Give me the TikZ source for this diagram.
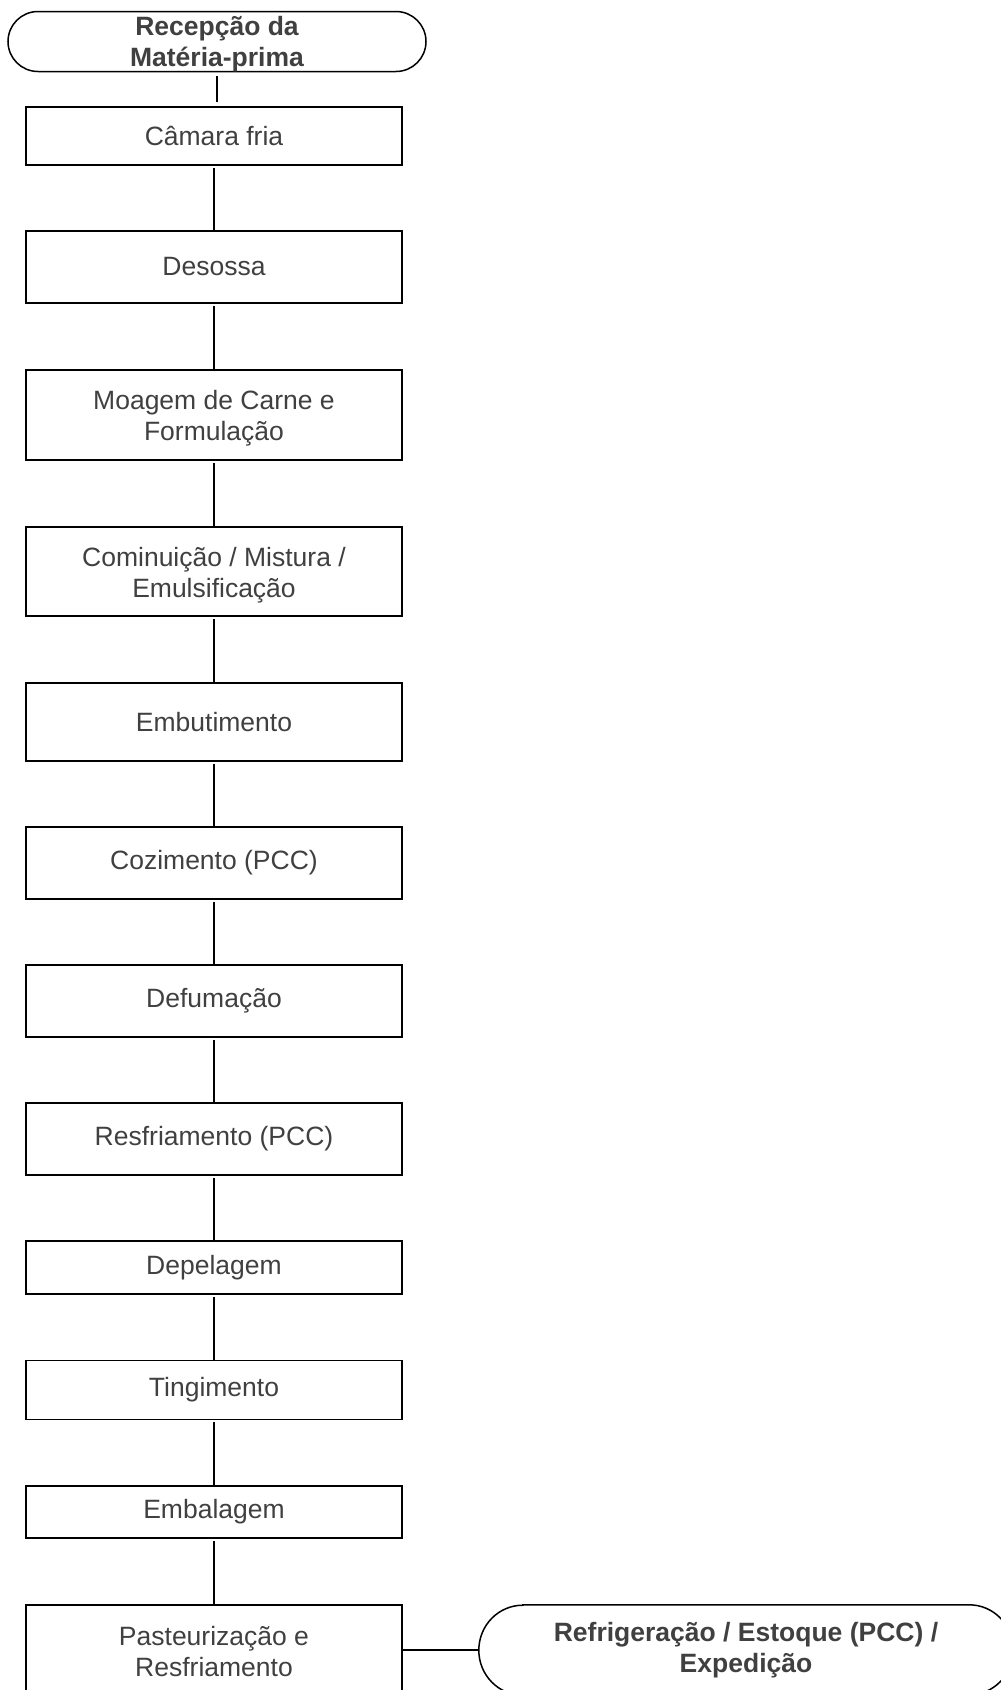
\documentclass[tikz,border=0pt]{standalone}
\usepackage{fontspec}
\setmainfont{Liberation Sans}
\usetikzlibrary{shapes.misc}
\definecolor{txtgray}{HTML}{404040}
\newcommand{\lowerfix}{\rule{0pt}{26pt}}
\newcommand{\lowerfixT}{\rule{0pt}{23.5pt}}
\begin{document}
\begin{tikzpicture}[x=1pt,y=-1pt]
\tikzset{
  stepbox/.style={draw=black, line width=1.5pt, rectangle, minimum width=376pt, inner sep=0pt,
    align=center, text=txtgray, font=\fontsize{26.5}{31}\selectfont},
  termbox/.style={draw=black, line width=1.5pt, rounded rectangle, inner sep=0pt,
    align=center, text=txtgray, font=\fontsize{26.5}{31}\selectfont\bfseries},
  termtext/.style={draw=none, rectangle, inner sep=0pt, align=center, text=txtgray,
    font=\fontsize{26.5}{31}\selectfont\bfseries},
  conn/.style={draw=black, line width=1.5pt},
}
\useasboundingbox (0,0) rectangle (1001,1690);
\fill[white] (0,0) rectangle (1001,1690);

\node[termbox, minimum width=418pt, minimum height=59pt] (t1) at (217,41.5) {\lowerfixT Recepção da\\Matéria-prima};

\node[stepbox, minimum height=58pt] (b1) at (214,136) {Câmara fria};
\node[stepbox, minimum height=72pt] (b2) at (214,267) {Desossa};
\node[stepbox, minimum height=90pt] (b3) at (214,415) {\lowerfix Moagem de Carne e\\Formulação};
\node[stepbox, minimum height=89pt] (b4) at (214,571.5) {\lowerfix Cominuição / Mistura /\\Emulsificação};
\node[stepbox, minimum height=78pt] (b5) at (214,722) {Embutimento};
\node[stepbox, minimum height=72pt] (b6) at (214,863) {Cozimento (PCC)};
\node[stepbox, minimum height=72pt] (b7) at (214,1001) {Defumação};
\node[stepbox, minimum height=72pt] (b8) at (214,1139) {Resfriamento (PCC)};
\node[stepbox, minimum height=53pt] (b9) at (214,1267.5) {Depelagem};
\node[stepbox, minimum height=59pt] (b10) at (214,1390) {Tingimento};
\node[stepbox, minimum height=52pt] (b11) at (214,1512) {Embalagem};
\node[stepbox, minimum height=94pt] (b12) at (214,1652) {Pasteurização e\\Resfriamento};

\node[termtext, minimum width=534pt, minimum height=90pt] (t2) at (746,1650) {Refrigeração / Estoque (PCC) /\\Expedição};
\draw[conn] ([xshift=44pt]t2.north west) -- ([xshift=-44pt]t2.north east)
  arc[start angle=90, end angle=-90, x radius=44pt, y radius=45pt]
  -- ([xshift=44pt]t2.south west)
  arc[start angle=270, end angle=90, x radius=44pt, y radius=45pt] -- cycle;

\draw[conn, shorten <=4pt, shorten >=4pt] (t1.south) -- (t1.south |- b1.north);
\foreach \a/\b in {b1/b2,b2/b3,b3/b4,b4/b5,b5/b6,b6/b7,b7/b8,b8/b9,b9/b10,b10/b11,b11/b12}{
  \draw[conn, shorten <=2pt] (\a.south) -- (\b.north);
}
\draw[conn] (t2.west -| b12.east) -- (t2.west);
\end{tikzpicture}
\end{document}
